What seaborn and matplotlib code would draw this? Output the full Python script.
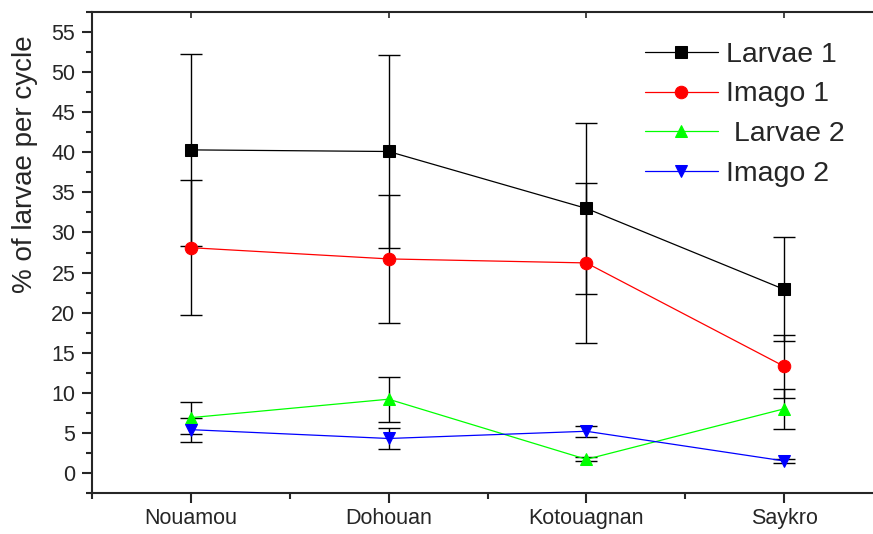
import seaborn as sns  # For plotting
import matplotlib.pyplot as plt  # For showing plots
from matplotlib.ticker import MultipleLocator, FixedLocator

# Sites along the x axis
sites = ["Nouamou", "Dohouan", "Kotouagnan", "Saykro"]

# Mean % per cycle and error bar half-widths for each series
larvae1 = [40.3, 40.1, 33.0, 22.9]
larvae1_err = [12.0, 12.0, 10.7, 6.5]
imago1 = [28.1, 26.7, 26.2, 13.3]
imago1_err = [8.4, 8.0, 10.0, 3.9]
larvae2 = [6.9, 9.2, 1.7, 8.0]
larvae2_err = [2.0, 2.8, 0.25, 2.5]
imago2 = [5.4, 4.3, 5.2, 1.5]
imago2_err = [1.5, 1.3, 0.7, 0.2]

series_names = ["Larvae 1", "Imago 1", " Larvae 2", "Imago 2"]

sns.set_style("ticks")
plt.rcParams['font.family'] = ['Liberation Sans', 'DejaVu Sans']

fig = plt.figure(figsize=(8.73, 5.34), dpi=100)
# axes run off the right edge like in the original export
ax = fig.add_axes([92 / 873, 41 / 534, 791 / 873, 481 / 534])

x = list(range(len(sites)))
series = [
    (larvae1, larvae1_err, "black", "s"),
    (imago1, imago1_err, "#ff0000", "o"),
    (larvae2, larvae2_err, "#00ff00", "^"),
    (imago2, imago2_err, "#0000ff", "v"),
]

for (vals, errs, col, mk), name in zip(series, series_names):
    ax.errorbar(x, vals, yerr=errs, fmt="none", ecolor="black", elinewidth=1,
                capsize=8, capthick=1, zorder=1.5)
    sns.lineplot(x=x, y=vals, color=col, marker=mk, markersize=9,
                 markeredgecolor=col, linewidth=0.9, label=name, ax=ax, zorder=3)

ax.set_xlim(-0.5, 3.5)
ax.set_ylim(-2.5, 57.5)
ax.set_xticks(x)
ax.set_xticklabels(sites)
ax.xaxis.set_minor_locator(FixedLocator([-0.5, 0.5, 1.5, 2.5]))
ax.set_yticks(range(0, 56, 5))
ax.yaxis.set_minor_locator(MultipleLocator(2.5))

for s in ax.spines.values():
    s.set_linewidth(1.5)
ax.spines["right"].set_visible(False)

ax.tick_params(axis="both", which="major", direction="out", length=7, width=1.5,
               labelsize=15.5, pad=5)
ax.tick_params(axis="both", which="minor", direction="out", length=4, width=1.5)
ax.tick_params(axis="x", which="major", pad=4)

# small inward ticks on the top edge
top = ax.secondary_xaxis("top")
top.set_xticks(x)
top.tick_params(direction="in", length=4, width=1.2, labeltop=False)
top.spines["top"].set_visible(False)

ax.set_xlabel("")
ax.set_ylabel("% of larvae per cycle", fontsize=20)
ax.yaxis.set_label_coords(-0.068, 0.683)

ax.legend(loc="upper left", bbox_to_anchor=(0.699, 0.938), frameon=False,
          fontsize=20.5, handlelength=2.55, handletextpad=0.3, labelspacing=0.48,
          borderpad=0, borderaxespad=0)

fig.savefig("out.png", dpi=100)
